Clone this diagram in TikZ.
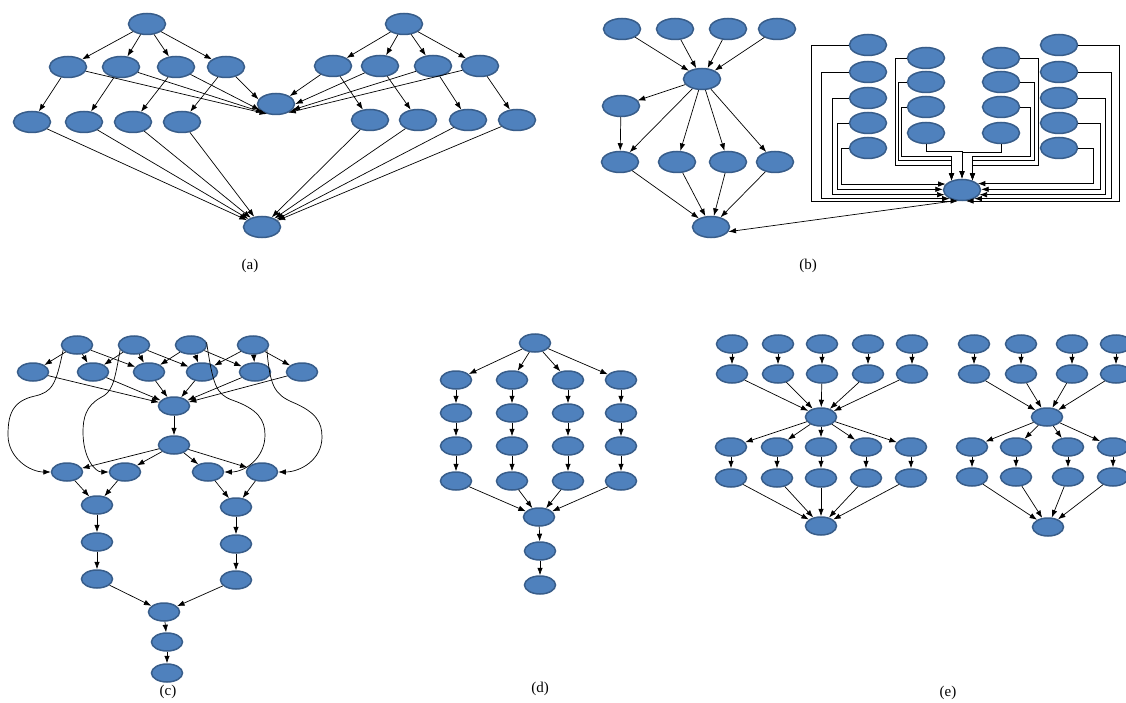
\documentclass[tikz,border=0pt]{standalone}
\usepackage{fontspec}
\setmainfont{Liberation Serif}
\usetikzlibrary{shapes.geometric,arrows.meta,calc}
\definecolor{nodefill}{HTML}{4F81BD}
\definecolor{nodeedge}{HTML}{385D8A}
\tikzset{
  vtx/.style={ellipse, draw=nodeedge, fill=nodefill, line width=1.5pt,
    minimum width=37pt, minimum height=21pt, inner sep=0pt},
  svtx/.style={vtx, minimum width=31pt, minimum height=18pt},
  arr/.style={-{Latex[length=7.5pt,width=5.5pt]}, line width=0.7pt, black},
  sublabel/.style={font=\fontsize{15}{17}\selectfont, inner sep=0pt}
}
\begin{document}
\begin{tikzpicture}[x=1pt,y=-1pt]
\fill[white] (0,0) rectangle (1126,703);
\useasboundingbox (0,0) rectangle (1126,703);

% ---------------- (a) two fan-outs joining in a sink ----------------
\node[vtx] (aT1) at (147,24) {};
\node[vtx] (aT2) at (404,24) {};
\foreach \n/\x in {1/68,2/121,3/176,4/226} \node[vtx] (aL\n) at (\x,67) {};
\foreach \n/\x in {1/333,2/380,3/433,4/480} \node[vtx] (aR\n) at (\x,66) {};
\node[vtx] (aC) at (276,104) {};
\foreach \n/\x in {1/32,2/84,3/133,4/182} \node[vtx] (aP\n) at (\x,122) {};
\foreach \n/\x in {1/370,2/418,3/468,4/517} \node[vtx] (aQ\n) at (\x,120) {};
\node[vtx] (aB) at (262,227) {};
\foreach \n in {1,...,4} {
  \draw[arr] (aT1) -- (aL\n);
  \draw[arr] (aT2) -- (aR\n);
  \draw[arr] (aL\n) -- (aP\n);
  \draw[arr] (aR\n) -- (aQ\n);
  \draw[arr] (aP\n) -- (aB);
  \draw[arr] (aQ\n) -- (aB);
}
\foreach \n/\a in {1/228,2/215,3/200,4/165} \draw[arr] (aL\n) -- (aC.\a);
\foreach \n/\a in {1/30,2/0,3/-20,4/-35} \draw[arr] (aR\n) -- (aC.\a);
\node[sublabel] (labA) at (250,266) {(a)};

% ---------------- (b) left: funnel into one node ----------------
\foreach \n/\x in {1/622,2/675,3/728,4/777} \node[vtx] (bT\n) at (\x,29) {};
\node[vtx] (bC) at (702,79) {};
\node[vtx] (bM) at (621,106) {};
\foreach \n/\x in {1/620,2/677,3/728,4/775} \node[vtx] (bR\n) at (\x,162) {};
\node[vtx] (bB) at (711,227) {};
\foreach \n in {1,...,4} {
  \draw[arr] (bT\n) -- (bC);
  \draw[arr] (bC) -- (bR\n);
  \draw[arr] (bR\n) -- (bB);
}
\draw[arr] (bC) -- (bM);
\draw[arr] (bM) -- (bR1);

% ---------------- (b) right: eighteen nodes routed into one sink ----------------
\foreach \n/\y in {1/45,2/72,3/98,4/123,5/148} {
  \node[vtx] (bL\n) at (868,\y) {};
  \node[vtx] (bK\n) at (1059,\y) {};
}
\foreach \n/\y in {1/58,2/82,3/107,4/133} {
  \node[vtx] (bN\n) at (926,\y) {};
  \node[vtx] (bO\n) at (1001,\y) {};
}
\node[vtx] (bS) at (962,190) {};
% left column
\draw[arr] (bL1.west) -- ++(-37,0) |- (bS.250);
\draw[arr] (bL2.west) -- ++(-27,0) |- (bS.215);
\draw[arr] (bL3.west) -- ++(-16,0) |- (bS.195);
\draw[arr] (bL4.west) -- ++(-11,0) |- (bS.178);
\draw[arr] (bL5.west) -- ++(-7,0) |- (bS.160);
% right column
\draw[arr] (bK1.east) -- ++(41,0) |- (bS.290);
\draw[arr] (bK2.east) -- ++(33,0) |- (bS.325);
\draw[arr] (bK3.east) -- ++(27,0) |- (bS.345);
\draw[arr] (bK4.east) -- ++(22,0) |- (bS.2);
\draw[arr] (bK5.east) -- ++(15,0) |- (bS.22);
% inner columns
\draw[arr] (bN1.west) -| (895,165) -| (bS.138);
\draw[arr] (bN2.west) -| (898,160) -| (bS.138);
\draw[arr] (bN3.west) -| (901,156) -| (bS.138);
\draw[arr] (bN4.south) -- ++(0,7) -| (bS.north);
\draw[arr] (bO1.east) -| (1038,165) -| (bS.42);
\draw[arr] (bO2.east) -| (1034,160) -| (bS.42);
\draw[arr] (bO3.east) -| (1030,156) -| (bS.42);
\draw[arr] (bO4.south) -- ++(0,8) -| (bS.north);
% sink to the left graph
\draw[arr] (bS.240) -- (bB.-15);
\node[sublabel] (labB) at (808,266) {(b)};

% ---------------- (c) ----------------
\foreach \n/\x in {1/77,2/134,3/191,4/253} \node[svtx] (cT\n) at (\x,345) {};
\foreach \n/\x in {1/33,2/93,3/149,4/202,5/255,6/302} \node[svtx] (cR\n) at (\x,372) {};
\node[svtx] (cC1) at (174,406) {};
\node[svtx] (cC2) at (174,445) {};
\foreach \n/\x in {1/67,2/125,3/208,4/262} \node[svtx] (cF\n) at (\x,472) {};
\foreach \n/\y in {1/505,2/542,3/579} \node[svtx] (cG\n) at (97,\y) {};
\foreach \n/\y in {1/507,2/544,3/580} \node[svtx] (cH\n) at (236,\y) {};
\node[svtx] (cB1) at (164,612) {};
\node[svtx] (cB2) at (167,642) {};
\node[svtx] (cB3) at (167,673) {};
\foreach \a/\b/\c/\d in {1/1/2/3, 2/2/3/4, 3/3/4/5, 4/4/5/6} {
  \draw[arr] (cT\a) -- (cR\b);
  \draw[arr] (cT\a) -- (cR\c);
  \draw[arr] (cT\a) -- (cR\d);
}
\foreach \n in {1,...,6} \draw[arr] (cR\n) -- (cC1);
\draw[arr] (cC1) -- (cC2);
\foreach \n in {1,...,4} \draw[arr] (cC2) -- (cF\n);
\draw[arr] (cF1) -- (cG1);
\draw[arr] (cF2) -- (cG1);
\draw[arr] (cF3) -- (cH1);
\draw[arr] (cF4) -- (cH1);
\draw[arr] (cG1) -- (cG2);
\draw[arr] (cG2) -- (cG3);
\draw[arr] (cH1) -- (cH2);
\draw[arr] (cH2) -- (cH3);
\draw[arr] (cG3) -- (cB1);
\draw[arr] (cH3) -- (cB1);
\draw[arr] (cB1) -- (cB2);
\draw[arr] (cB2) -- (cB3);
% long curved edges skipping two levels
\draw[arr] (cT1.200) .. controls (56,385) and (52,392) .. (35,396)
  .. controls (12,401) and (8,415) .. (8,435)
  .. controls (8,458) and (30,472) .. (cF1.west);
\draw[arr] (cT2.200) .. controls (114,385) and (112,392) .. (100,398)
  .. controls (86,406) and (83,418) .. (83,432)
  .. controls (83,458) and (95,472) .. (cF2.west);
\draw[arr] (cT3.10) .. controls (213,385) and (216,394) .. (232,400)
  .. controls (258,409) and (265,420) .. (265,435)
  .. controls (265,458) and (245,472) .. (cF3.east);
\draw[arr] (cT4.-20) .. controls (270,385) and (274,394) .. (292,402)
  .. controls (316,412) and (322,422) .. (322,437)
  .. controls (322,460) and (300,472) .. (cF4.east);
\node[sublabel] (labC) at (168,692) {(c)};

% ---------------- (d) four parallel chains ----------------
\node[svtx] (dT) at (535,343) {};
\foreach \c/\x in {1/456,2/512,3/568,4/621} {
  \foreach \r/\y in {1/380,2/413,3/446,4/481} \node[svtx] (d\c\r) at (\x,\y) {};
}
\node[svtx] (dS1) at (539,517) {};
\node[svtx] (dS2) at (540,551) {};
\node[svtx] (dS3) at (540,585) {};
\foreach \c in {1,...,4} {
  \draw[arr] (dT) -- (d\c1);
  \draw[arr] (d\c1) -- (d\c2);
  \draw[arr] (d\c2) -- (d\c3);
  \draw[arr] (d\c3) -- (d\c4);
  \draw[arr] (d\c4) -- (dS1);
}
\draw[arr] (dS1) -- (dS2);
\draw[arr] (dS2) -- (dS3);
\node[sublabel] (labD) at (540,689) {(d)};

% ---------------- (e) two hourglass graphs ----------------
\foreach \n/\x in {1/732,2/778,3/822,4/868,5/912} {
  \node[svtx] (eA\n) at (\x,344) {};
  \node[svtx] (eB\n) at (\x,374) {};
}
\node[svtx] (eC) at (821,417) {};
\foreach \n/\x in {1/731,2/777,3/821,4/866,5/911} {
  \node[svtx] (eD\n) at (\x,447) {};
  \node[svtx] (eE\n) at (\x,478) {};
}
\node[svtx] (eF) at (821,526) {};
\foreach \n in {1,...,5} {
  \draw[arr] (eA\n) -- (eB\n);
  \draw[arr] (eB\n) -- (eC);
  \draw[arr] (eC) -- (eD\n);
  \draw[arr] (eD\n) -- (eE\n);
  \draw[arr] (eE\n) -- (eF);
}
\foreach \n/\x in {1/974,2/1021,3/1072,4/1116} {
  \node[svtx] (fA\n) at (\x,344) {};
  \node[svtx] (fB\n) at (\x,374) {};
}
\node[svtx] (fC) at (1047,417) {};
\foreach \n/\x in {1/972,2/1016,3/1068,4/1113} {
  \node[svtx] (fD\n) at (\x,447) {};
  \node[svtx] (fE\n) at (\x,477) {};
}
\node[svtx] (fF) at (1048,527) {};
\foreach \n in {1,...,4} {
  \draw[arr] (fA\n) -- (fB\n);
  \draw[arr] (fB\n) -- (fC);
  \draw[arr] (fC) -- (fD\n);
  \draw[arr] (fD\n) -- (fE\n);
  \draw[arr] (fE\n) -- (fF);
}
\node[sublabel] (labE) at (948,693) {(e)};
\end{tikzpicture}
\end{document}
